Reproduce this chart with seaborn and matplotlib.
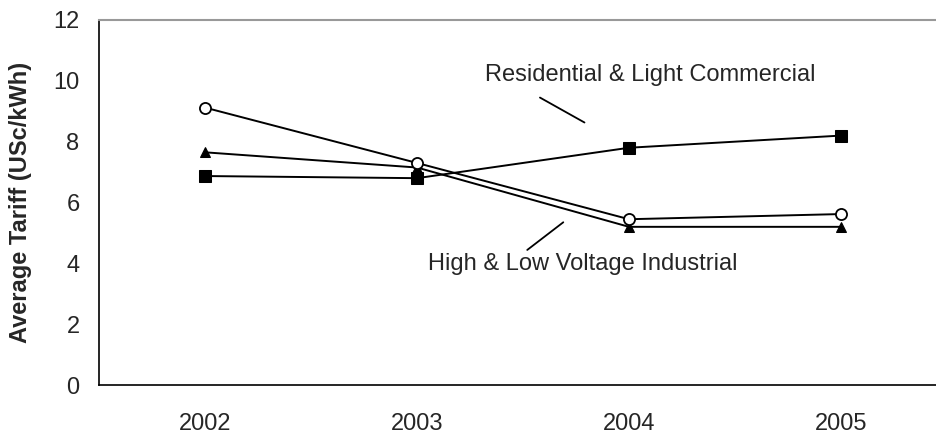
import matplotlib
matplotlib.use("Agg")
import matplotlib.pyplot as plt
import seaborn as sns
import pandas as pd

sns.set_style("white")
plt.rcParams["font.family"] = ["Liberation Sans", "DejaVu Sans"]

years = ["2002", "2003", "2004", "2005"]
residential = [6.87, 6.8, 7.8, 8.2]       # squares
industrial_hv = [9.12, 7.3, 5.45, 5.62]   # open circles
industrial_lv = [7.65, 7.15, 5.2, 5.2]    # triangles

fig = plt.figure(figsize=(9.36, 4.33), dpi=100)
ax = fig.add_axes([99 / 936, 48 / 433, 848 / 936, 365 / 433])

x = list(range(len(years)))
sns.lineplot(x=x, y=residential, ax=ax, color="black", lw=1.4,
             marker="s", markersize=8, markerfacecolor="black", markeredgecolor="black")
sns.lineplot(x=x, y=industrial_lv, ax=ax, color="black", lw=1.4,
             marker="^", markersize=7, markerfacecolor="black", markeredgecolor="black")
sns.lineplot(x=x, y=industrial_hv, ax=ax, color="black", lw=1.4,
             marker="o", markersize=8, markerfacecolor="white", markeredgecolor="black",
             markeredgewidth=1.3)

fs = 17
ax.set_xlim(-0.5, len(years) - 0.5)
ax.set_ylim(0, 12)
ax.set_yticks(range(0, 13, 2))
ax.set_xticks(x)
ax.set_xticklabels(years)
ax.set_xticks([i + 0.5 for i in x[:-1]], minor=True)
ax.tick_params(axis="x", which="major", length=0, pad=20, labelsize=fs)
ax.tick_params(axis="x", which="minor", length=8, width=1, color="black", direction="out")
ax.tick_params(axis="y", length=8, width=1, color="black", direction="out", pad=6, labelsize=fs)

for side in ["left", "bottom"]:
    ax.spines[side].set_color("black")
    ax.spines[side].set_linewidth(1.2)
ax.spines["top"].set_color("#999999")
ax.spines["top"].set_linewidth(1.5)
ax.spines["right"].set_visible(False)

ax.set_ylabel("Average Tariff (USc/kWh)", fontsize=fs, fontweight="bold", labelpad=15)

ax.text(2.1, 10.2, "Residential & Light Commercial", fontsize=fs, ha="center", va="center")
ax.plot([1.58, 1.79], [9.45, 8.63], color="black", lw=1.3)
ax.text(1.78, 3.98, "High & Low Voltage Industrial", fontsize=fs, ha="center", va="center")
ax.plot([1.52, 1.69], [4.44, 5.35], color="black", lw=1.3)

fig.savefig("out.png", dpi=100)
